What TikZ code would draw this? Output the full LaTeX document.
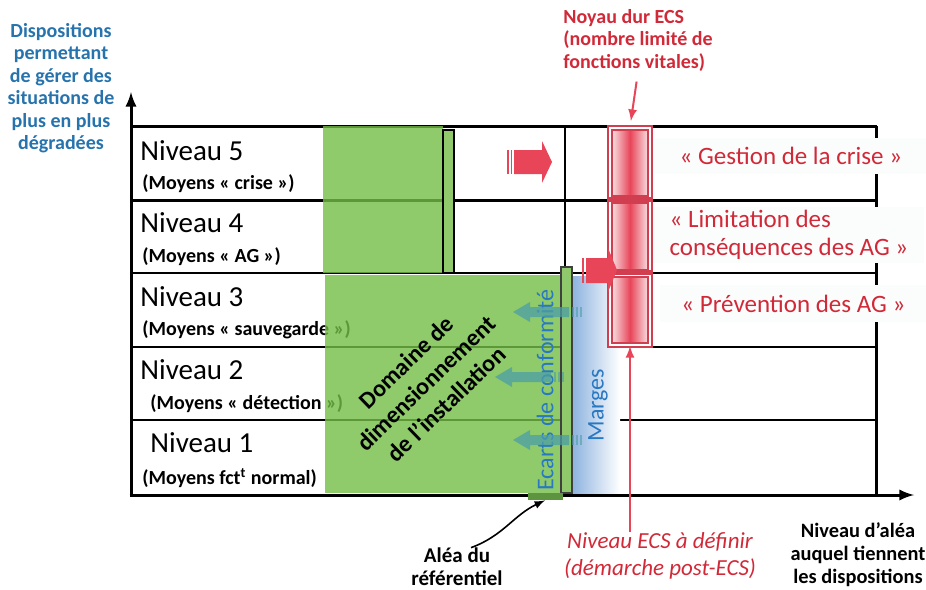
\documentclass[tikz,border=0pt]{standalone}
\usepackage{fontspec}
\setmainfont{Carlito}
\usetikzlibrary{arrows,shapes,positioning}
\definecolor{vert}{rgb}{0.45,0.74,0.275}
\definecolor{vertclair}{rgb}{0.56,0.79,0.42}
\definecolor{vertfonce}{rgb}{0.36,0.58,0.25}
\definecolor{rouge}{rgb}{0.91,0.27,0.35}
\definecolor{rougetexte}{rgb}{0.82,0.16,0.22}
\definecolor{rosepale}{rgb}{0.98,0.94,0.94}
\definecolor{bleutexte}{rgb}{0.15,0.45,0.68}
\definecolor{bleuecart}{rgb}{0.16,0.47,0.76}
\definecolor{bleuclair}{rgb}{0.55,0.70,0.87}
\definecolor{sarcelle}{rgb}{0.30,0.62,0.65}
\definecolor{fondlabel}{rgb}{0.985,0.992,0.992}

\begin{document}
\begin{tikzpicture}[x=0.5pt, y=-0.5pt]
	\tikzstyle{niveau}=[anchor=west, inner sep=0pt, font=\fontsize{14.5}{16}\selectfont]
	\tikzstyle{moyens}=[anchor=west, inner sep=0pt, font=\bfseries\fontsize{10}{12}\selectfont]
	\tikzstyle{fonction}=[anchor=west, fill=fondlabel, text=rougetexte, align=left, inner sep=0pt, minimum width=135.5pt, font=\fontsize{12.5}{14}\selectfont]
	\tikzstyle{cellule}=[draw=rouge!90!black, double=white, double distance=0.9pt, line width=1pt, left color=rosepale, right color=rosepale, middle color=rouge, minimum width=20pt, minimum height=35pt, inner sep=0pt]
	\tikzstyle{legende}=[align=center, inner sep=0pt, font=\bfseries\fontsize{10.5}{11.5}\selectfont]
	\tikzstyle{vertical}=[rotate=90, text=bleuecart, inner sep=0pt, font=\fontsize{12}{14}\selectfont]

	\useasboundingbox (0,0) rectangle (926,589);

	% AXES
	\coordinate (origine) at (131,495);
	\coordinate (haut) at (131,92);
	\coordinate (droite) at (914,495);
	\draw[line width=1.5pt] (131,126) -- (877,126);
	\draw[line width=1.5pt] (131,200) -- (877,200);
	\foreach \y in {273,347,420}
		\draw[line width=1pt] (131,\y) -- (877,\y);
	\draw[line width=1.5pt] (876,126) -- (876,496);
	\draw[-latex, line width=1.5pt] ([yshift=-0.75pt]origine) -- (haut);
	\draw[-latex, line width=1.5pt] ([xshift=-0.75pt]origine) -- (droite);

	% NIVEAUX
	\node[niveau] (niv5) at (140,151) {Niveau 5};
	\node[moyens] (moy5) at (142,184) {(Moyens « crise »)};
	\node[niveau] (niv4) at (140,223) {Niveau 4};
	\node[moyens] (moy4) at (142,257) {(Moyens « AG »)};
	\node[niveau] (niv3) at (140,297) {Niveau 3};
	\node[moyens] (moy3) at (142,330) {(Moyens « sauvegarde »)};
	\node[niveau] (niv2) at (140,370) {Niveau 2};
	\node[moyens] (moy2) at (150,404) {(Moyens « détection »)};
	\node[niveau] (niv1) at (150,443) {Niveau 1};
	\node[moyens] (moy1) at (142,478) {(Moyens fct\textsuperscript{t} normal)};

	% DOMAINE DE DIMENSIONNEMENT
	\fill[vert, fill opacity=0.8] (323,126) rectangle (443,273);
	\fill[vert, fill opacity=0.8] (325,275) rectangle (561,493);
	\draw[fill=vertclair, line width=0.8pt] (443,130) rectangle (454,273);
	\draw[line width=0.8pt] (565,126) -- (565,267);
	\shade[left color=bleuclair, right color=white] (572,276) rectangle (620,493);
	\draw[fill=vertclair, draw=black!75, line width=0.6pt] (561,267) rectangle (572,493);
	\node[fill=vertfonce, minimum width=17.5pt, minimum height=3.5pt, inner sep=0pt] (barre) at (545,496.5) {};

	\node[rotate=44, align=center, inner sep=0pt, font=\bfseries\fontsize{12}{14.5}\selectfont] (domaine) at (426,383) {Domaine de\\dimensionnement\\de l'installation};
	\node[vertical] (ecarts) at (545,390) {Ecarts de conformité};
	\node[vertical] (marges) at (598,405) {Marges};

	% FLECHES ECARTS
	\foreach \x/\y in {513/312, 495/377, 513/440} {
		\fill[sarcelle, fill opacity=0.75] (\x,\y) -- (\x+17,\y-10) -- (\x+17,\y-5) -- (\x+56,\y-5) -- (\x+56,\y+5) -- (\x+17,\y+5) -- (\x+17,\y+10) -- cycle;
		\foreach \s in {59,63,67}
			\fill[sarcelle, fill opacity=0.6] (\x+\s,\y-5) rectangle (\x+\s+2,\y+5);
	}

	% NOYAU DUR
	\node[cellule] (c5) at (630,163) {};
	\node[cellule] (c4) at (630,236.5) {};
	\node[cellule] (c3) at (630,310) {};
	\draw[rouge!90!black, line width=2.5pt] (c5.south west) -- (c5.south east);
	\draw[rouge!90!black, line width=2.5pt] (c4.south west) -- (c4.south east);

	% GROSSES FLECHES
	\fill[rouge] (507,150) rectangle (509,174);
	\fill[rouge] (511,150) rectangle (512,174);
	\fill[rouge] (514,150) -- (542,150) -- (542,141) -- (552,162) -- (542,183) -- (542,174) -- (514,174) -- cycle;
	\fill[rouge] (582,258) rectangle (584,283);
	\fill[rouge] (586,258) -- (608,258) -- (608,248) -- (617,270) -- (608,292) -- (608,283) -- (586,283) -- cycle;

	% FONCTIONS
	\node[fonction, minimum height=18pt, align=center] (crise) at (655,156) {« Gestion de la crise »};
	\node[fonction, minimum height=28pt] (conseq) at (653,235) {« Limitation des\\conséquences des AG »};
	\node[fonction, minimum height=18.5pt, minimum width=133pt, align=center] (prev) at (660,303.5) {« Prévention des AG »};

	% TEXTES
	\node[anchor=north, align=center, inner sep=0pt, text=bleutexte, font=\bfseries\fontsize{10}{11.2}\selectfont] (dispo) at (61,23) {Dispositions\\permettant\\de gérer des\\situations de\\plus en plus\\dégradées};
	\node[anchor=north west, align=left, inner sep=0pt, text=rougetexte, font=\bfseries\fontsize{10}{11.2}\selectfont] (noyau) at (563,9) {Noyau dur ECS\\(nombre limité de\\fonctions vitales)};
	\node[legende] (alea) at (457,567) {Aléa du\\référentiel};
	\node[legende, text=rougetexte, font=\itshape\fontsize{11.5}{13.5}\selectfont] (ecs) at (660,556) {Niveau ECS à définir\\(démarche post-ECS)};
	\node[legende, font=\bfseries\fontsize{10.2}{11.5}\selectfont] (tenue) at (858,555) {Niveau d’aléa\\auquel tiennent\\les dispositions};

	\path[-latex, line width=1pt]
		(noyau.south) edge [rouge, shorten <=5pt, shorten >=3pt] (c5.north)
		(ecs.north -| c3.south) edge [rouge] (c3.south)
		([xshift=7pt]alea.north) edge [out=20, in=205, line width=0.8pt] (barre.south);
\end{tikzpicture}
\end{document}
